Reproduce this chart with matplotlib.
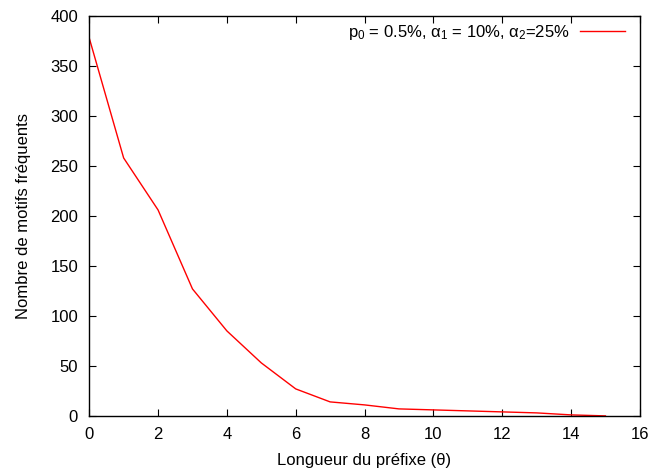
import matplotlib
matplotlib.use('Agg')
import matplotlib.pyplot as plt

plt.rcParams['font.family'] = ['Liberation Sans', 'DejaVu Sans']
plt.rcParams['mathtext.fontset'] = 'custom'
plt.rcParams['mathtext.rm'] = 'Liberation Sans'
plt.rcParams['mathtext.it'] = 'Liberation Sans:italic'
plt.rcParams['mathtext.default'] = 'regular'

# prefix length vs number of frequent patterns
prefix_len = [0, 1, 2, 3, 4, 5, 6, 7, 8, 9, 10, 11, 12, 13, 14, 15]
n_patterns = [378, 258, 206, 127, 85, 53, 27, 14, 11, 7, 6, 5, 4, 3, 1, 0]

x_ticks = [0, 2, 4, 6, 8, 10, 12, 14, 16]
y_ticks = [0, 50, 100, 150, 200, 250, 300, 350, 400]

fig = plt.figure(figsize=(6.61, 4.71), dpi=100)
ax = fig.add_axes([0.135, 0.117, 0.833, 0.849])

ax.plot(prefix_len, n_patterns, color='red', linewidth=1.0,
        label='p$_0$ = 0.5%, α$_1$ = 10%, α$_2$=25%')

ax.set_xlim(0, 16)
ax.set_ylim(0, 400)
ax.set_xticks(x_ticks)
ax.set_yticks(y_ticks)
ax.tick_params(direction='in', top=True, right=True, labelsize=12, length=5)
ax.tick_params(axis='x', pad=8)
ax.tick_params(axis='y', pad=8)
for s in ax.spines.values():
    s.set_linewidth(1.0)

ax.set_xlabel('Longueur du préfixe (θ)', fontsize=12, labelpad=8)
ax.set_ylabel('Nombre de motifs fréquents', fontsize=12, labelpad=14)

ax.legend(loc='upper right', frameon=False, markerfirst=False, fontsize=12,
          handlelength=2.7, borderaxespad=0.1, borderpad=0.3,
          handletextpad=0.6, bbox_to_anchor=(0.985, 1.0))

fig.savefig('out.png', dpi=100, facecolor='white')
plt.close(fig)
